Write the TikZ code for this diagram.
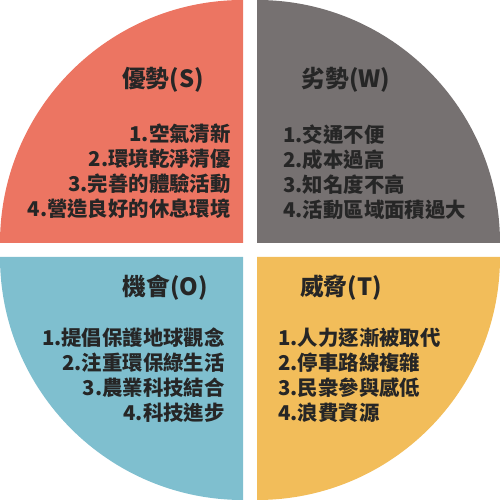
\documentclass[tikz,border=0pt]{standalone}
\usepackage{fontspec}
\setmainfont{Noto Sans CJK TC}
\definecolor{swotred}{RGB}{236,117,98}
\definecolor{swotgray}{RGB}{118,113,113}
\definecolor{swotblue}{RGB}{127,191,207}
\definecolor{swotgold}{RGB}{242,189,90}
\usetikzlibrary{positioning}

\begin{document}
\begin{tikzpicture}[
  head/.style={font=\fontsize{13.5}{16}\selectfont\bfseries, text=black!85, inner sep=0pt},
  items/.style={font=\fontsize{11.6}{14.2}\selectfont\bfseries, text=black!85, inner sep=0pt}
]
  \useasboundingbox (0,0) rectangle (10,10);
  \fill[swotred] (4.86,5.14) -- (0,5.14) arc (180:90:4.86) -- cycle;
  \fill[swotgray] (5.14,5.14) -- (5.14,10) arc (90:0:4.86) -- cycle;
  \fill[swotblue] (4.86,4.86) -- (4.86,0) arc (270:180:4.86) -- cycle;
  \fill[swotgold] (5.14,4.86) -- (10,4.86) arc (0:-90:4.86) -- cycle;

  \node[head] (shead) at (3.26,8.4) {優勢(S)};
  \node[items, align=right, anchor=east] (sitems) at (4.62,6.57) {1.空氣清新\\2.環境乾淨清優\\3.完善的體驗活動\\4.營造良好的休息環境};

  \node[head] (whead) at (6.92,8.4) {劣勢(W)};
  \node[items, align=left, anchor=west] (witems) at (5.66,6.56) {1.交通不便\\2.成本過高\\3.知名度不高\\4.活動區域面積過大};

  \node[head] (ohead) at (3.31,4.24) {機會(O)};
  \node[items, align=right, anchor=east] (oitems) at (4.5,2.5) {1.提倡保護地球觀念\\2.注重環保綠生活\\3.農業科技結合\\4.科技進步};

  \node[head] (thead) at (6.82,4.24) {威脅(T)};
  \node[items, align=left, anchor=west] (titems) at (5.56,2.5) {1.人力逐漸被取代\\2.停車路線複雜\\3.民衆參與感低\\4.浪費資源};
\end{tikzpicture}
\end{document}
